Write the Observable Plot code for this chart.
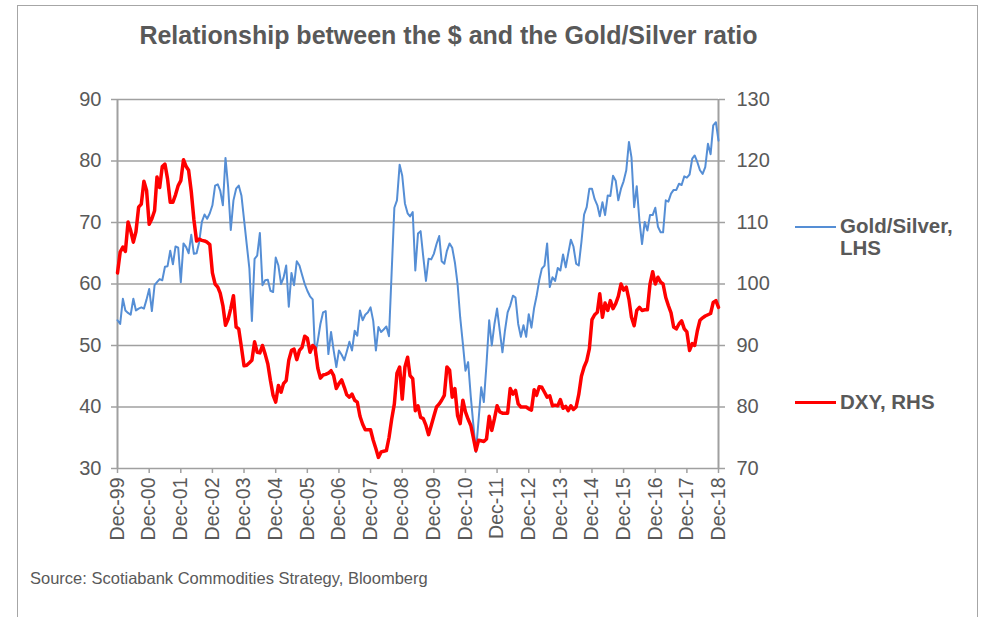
<!DOCTYPE html>
<html>
<head>
<meta charset="utf-8">
<script src="https://cdn.jsdelivr.net/npm/d3@7"></script>
<script src="https://cdn.jsdelivr.net/npm/@observablehq/plot@0.6"></script>
<style>
  html, body { margin: 0; padding: 0; background: #fff; overflow: hidden; }
  #wrap { position: relative; width: 982px; height: 617px; font-family: "Liberation Sans", Arial, sans-serif; color: #595959; }
  #frame { position: absolute; left: 17px; top: 5px; width: 961px; height: 700px; border: 1px solid #a6a6a6; box-sizing: border-box; }
  #title { position: absolute; left: 0; width: 897px; top: 21px; text-align: center; font-weight: bold; font-size: 25px; color: #595959; }
  #chart { position: absolute; left: 0; top: 0; }
  .leg { position: absolute; font-weight: bold; font-size: 20.5px; line-height: 22px; color: #595959; }
  .legline { position: absolute; height: 0; }
  #source { position: absolute; left: 30px; top: 569px; font-size: 16.5px; color: #595959; }
</style>
</head>
<body>
<div id="wrap">
  <div id="frame"></div>
  <div id="title">Relationship between the $ and the Gold/Silver ratio</div>
  <div id="chart"></div>
  <div class="legline" style="left:795px; top:226px; width:41px; border-top:2px solid #558ed5;"></div>
  <div class="leg" style="left:840px; top:215px;">Gold/Silver,<br>LHS</div>
  <div class="legline" style="left:795px; top:401px; width:41px; border-top:3.5px solid #ff0000;"></div>
  <div class="leg" style="left:840px; top:391px;">DXY, RHS</div>
  <div id="source">Source: Scotiabank Commodities Strategy, Bloomberg</div>
</div>
<script>
// Monthly series, Dec-1999 .. Dec-2018
const goldSilver = [
  54.1, 53.5, 57.6, 55.7, 55.3, 55.0, 57.6, 55.7, 56.0, 56.2, 56.0, 57.5,
  59.2, 55.6, 59.8, 60.3, 60.8, 60.6, 62.8, 62.9, 65.4, 63.2, 66.1, 65.9,
  60.3, 66.6, 66.0, 65.0, 68.0, 64.9, 65.0, 66.8, 70.1, 71.3, 70.6, 71.5,
  72.8, 76.0, 76.2, 75.2, 72.8, 80.5, 75.7, 68.8, 73.6, 75.5, 76.0, 74.4,
  70.5, 66.5, 62.5, 54.0, 64.1, 64.6, 68.3, 59.8, 60.6, 60.7, 58.9, 58.7,
  64.3, 63.0, 60.0, 61.0, 63.0, 56.3, 61.8, 59.8, 63.7, 63.0, 61.5, 60.0,
  58.9, 58.0, 57.5, 48.5, 50.8, 53.5, 55.4, 55.6, 48.6, 52.2, 49.2, 46.5,
  49.2, 48.5, 47.6, 49.0, 50.6, 49.2, 52.4, 51.6, 55.7, 54.1, 55.0, 55.4,
  56.2, 54.0, 49.2, 53.0, 52.2, 52.6, 53.1, 51.5, 62.0, 72.4, 73.6, 79.4,
  77.6, 73.1, 71.5, 71.0, 71.7, 62.2, 68.2, 68.6, 64.4, 60.5, 64.1, 64.0,
  64.9, 66.5, 67.8, 63.7, 63.3, 65.4, 66.6, 65.9, 63.5, 60.0, 54.6, 50.3,
  45.9, 47.3, 41.6, 37.3, 32.7, 37.8, 43.2, 40.8, 47.0, 54.1, 50.0, 53.5,
  56.0, 52.4, 48.9, 52.4, 55.4, 56.5, 58.1, 57.8, 53.5, 51.4, 53.3, 51.4,
  55.1, 52.9, 56.1, 58.0, 60.6, 62.5, 63.0, 66.6, 59.5, 61.1, 60.5, 62.6,
  62.2, 64.8, 62.7, 64.9, 67.2, 66.1, 63.3, 63.0, 66.8, 71.3, 72.5, 75.5,
  75.5, 73.8, 72.8, 71.0, 73.3, 71.2, 74.4, 74.3, 77.6, 76.8, 73.6, 75.5,
  76.7, 78.5, 83.1, 80.6, 72.5, 75.9, 70.3, 66.5, 70.1, 68.7, 71.2, 71.2,
  72.4, 69.3, 68.4, 68.4, 73.6, 73.4, 74.7, 75.3, 75.3, 76.3, 76.1, 77.5,
  77.3, 77.8, 80.4, 80.9, 79.8, 78.5, 77.9, 79.0, 82.8, 81.1, 85.8, 86.3,
  83.3
];
const dxy = [
  101.8, 105.2, 106.0, 105.3, 110.1, 108.7, 106.8, 108.5, 112.5, 113.0, 116.7, 115.2,
  109.7, 110.6, 111.9, 117.4, 115.7, 119.1, 119.5, 117.1, 113.3, 113.3, 114.5, 116.0,
  116.8, 120.2, 119.1, 118.5, 115.0, 110.5, 107.0, 107.3, 107.1, 107.0, 106.8, 106.4,
  101.8, 100.0, 99.5, 98.5, 96.5, 93.3, 94.3, 96.0, 98.1, 93.0, 92.7, 89.7,
  86.7, 86.8, 87.2, 87.6, 90.6, 88.9, 88.8, 90.0, 88.6, 87.0, 84.3, 81.9,
  80.8, 83.5, 82.4, 83.8, 84.3, 87.6, 89.2, 89.4, 87.7, 89.2, 89.7, 91.5,
  91.2, 88.9, 90.0, 89.6, 86.3, 84.7, 85.2, 85.3, 85.5, 85.9, 85.1, 83.0,
  83.8, 84.4, 83.2, 82.0, 81.6, 82.1, 81.1, 80.8, 78.5, 77.2, 76.3, 76.3,
  76.3, 74.6, 73.2, 71.8, 72.7, 72.8, 72.9, 75.0, 78.0, 80.5, 85.5, 86.5,
  81.3, 86.5, 88.1, 85.1, 84.6, 79.4, 80.2, 78.3, 78.1, 77.0, 75.5, 77.0,
  78.5, 80.0, 80.5, 81.1, 81.9, 86.5, 86.0, 81.6, 83.0, 78.6, 77.3, 81.1,
  79.2, 78.0, 77.0, 75.1, 72.9, 74.6, 74.5, 74.4, 74.8, 78.5, 76.2, 78.1,
  80.2, 79.2, 79.0, 79.0, 79.0, 83.0, 82.1, 82.7, 80.5, 80.0, 80.0, 80.0,
  79.7, 79.5, 82.8, 81.9, 83.3, 83.2, 82.4, 81.6, 81.8, 80.2, 80.3, 80.2,
  81.2, 79.8, 80.1, 79.4, 80.2, 79.6, 80.0, 82.0, 85.0, 86.5, 87.5, 89.5,
  94.2, 95.0, 95.4, 98.4, 94.6, 96.9, 95.7, 97.3, 96.0, 96.8, 98.0, 100.0,
  99.0, 99.5, 97.5, 94.6, 93.2, 95.7, 96.2, 95.7, 95.8, 95.8, 100.0, 102.0,
  100.0, 101.1, 100.3, 100.0, 97.8, 96.5, 95.3, 93.0, 92.7, 93.5, 94.0, 92.7,
  92.2, 89.2, 90.3, 90.0, 92.4, 94.1, 94.5, 94.8, 95.0, 95.2, 97.0, 97.3,
  96.2
];
const xTickLabels = ["Dec-99","Dec-00","Dec-01","Dec-02","Dec-03","Dec-04","Dec-05","Dec-06","Dec-07","Dec-08","Dec-09","Dec-10","Dec-11","Dec-12","Dec-13","Dec-14","Dec-15","Dec-16","Dec-17","Dec-18"];
const leftTicks = [30, 40, 50, 60, 70, 80, 90];
const rightTicks = [70, 80, 90, 100, 110, 120, 130];

const start = new Date(Date.UTC(1999, 11, 1));
const monthDate = i => d3.utcMonth.offset(start, i);
const tickDates = xTickLabels.map((_, i) => d3.utcYear.offset(start, i));
const rightOffset = 40; // right axis value = left axis value + 40

const gsData = goldSilver.map((v, i) => ({date: monthDate(i), v}));
const dxyData = dxy.map((v, i) => ({date: monthDate(i), v}));

const tickColor = "#a0a0a0";
const textColor = "#595959";

const chart = Plot.plot({
  width: 982,
  height: 560,
  marginLeft: 117,
  marginRight: 264,
  marginTop: 99,
  marginBottom: 92,
  style: {fontFamily: "'Liberation Sans', Arial, sans-serif", color: textColor, background: "transparent"},
  x: {type: "utc", domain: [tickDates[0], tickDates[tickDates.length - 1]]},
  y: {domain: [30, 90]},
  marks: [
    Plot.gridY(leftTicks, {stroke: tickColor, strokeOpacity: 1, strokeWidth: 1.5}),
    Plot.ruleX([tickDates[0], tickDates[tickDates.length - 1]], {stroke: tickColor, strokeWidth: 2}),
    Plot.axisY(leftTicks, {anchor: "left", tickSize: 6, tickPadding: 10, fontSize: 20, label: null, stroke: tickColor, fill: textColor, strokeWidth: 1.5}),
    Plot.axisY(rightTicks.map(d => d - rightOffset), {anchor: "right", tickSize: 6, tickPadding: 12, fontSize: 20, label: null, stroke: tickColor, fill: textColor, strokeWidth: 1.5, tickFormat: d => String(d + rightOffset)}),
    Plot.axisX(tickDates, {anchor: "bottom", tickSize: 5, tickPadding: 4, tickRotate: -90, fontSize: 19.5, label: null, stroke: tickColor, fill: textColor, strokeWidth: 1.5,
      tickFormat: d => xTickLabels[tickDates.findIndex(t => +t === +d)]}),
    Plot.lineY(gsData, {x: "date", y: "v", stroke: "#558ed5", strokeWidth: 2}),
    Plot.lineY(dxyData, {x: "date", y: d => d.v - rightOffset, stroke: "#ff0000", strokeWidth: 3.5})
  ]
});
document.getElementById("chart").appendChild(chart);
</script>
</body>
</html>
